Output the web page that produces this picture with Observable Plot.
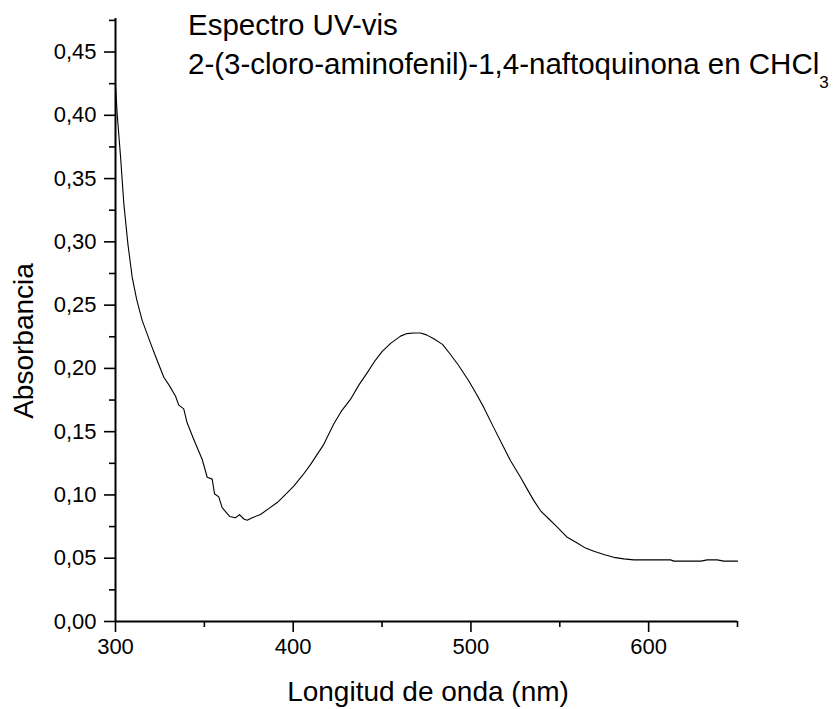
<!DOCTYPE html>
<html>
<head>
<meta charset="utf-8">
<script src="https://cdn.jsdelivr.net/npm/d3@7"></script>
<script src="https://cdn.jsdelivr.net/npm/@observablehq/plot@0.6"></script>
<style>
  html, body { margin: 0; padding: 0; background: #fff; }
  #chart { position: relative; width: 836px; height: 709px; }
  svg { font-family: "Liberation Sans", Arial, sans-serif; }
</style>
</head>
<body>
<div id="chart"></div>
<script>
// Wavelength (nm) and absorbance
const wavelength = [300, 301, 302.8, 304.7, 307, 309.4, 312, 315, 319.7, 323.5, 327.2, 330.5, 333.8, 335.6, 338.4, 340.3, 344, 348.8, 351.6, 354.4, 355.7, 358.1, 360, 364.2, 367.5, 369.8, 372.2, 374.1, 376.9, 381.6, 386, 391, 395, 400.3, 405, 409.7, 417.2, 422.8, 427, 432.2, 437, 441.6, 446, 450.1, 455, 460.4, 464, 467.9, 471.6, 475, 479.1, 484, 488.5, 493, 498.8, 503, 507.3, 512.9, 518.5, 522.3, 527.9, 531.5, 535.4, 539.2, 543.9, 548.6, 554.2, 559.8, 564.5, 569.2, 574.8, 580.4, 586, 591.7, 600, 612.3, 614.2, 620, 629.4, 633, 638.6, 642.3, 650];
const absorbance = [0.424, 0.400, 0.368, 0.330, 0.298, 0.272, 0.254, 0.238, 0.220, 0.206, 0.193, 0.186, 0.178, 0.171, 0.168, 0.157, 0.144, 0.128, 0.114, 0.1125, 0.101, 0.0985, 0.090, 0.083, 0.082, 0.0845, 0.081, 0.080, 0.082, 0.0845, 0.089, 0.094, 0.0995, 0.107, 0.115, 0.124, 0.140, 0.156, 0.166, 0.1755, 0.187, 0.1965, 0.206, 0.2135, 0.220, 0.2255, 0.2275, 0.228, 0.228, 0.2265, 0.2235, 0.219, 0.211, 0.2025, 0.190, 0.180, 0.169, 0.153, 0.1375, 0.127, 0.114, 0.105, 0.0955, 0.0875, 0.081, 0.0745, 0.0665, 0.062, 0.058, 0.0555, 0.053, 0.0507, 0.0495, 0.0487, 0.0487, 0.0487, 0.0477, 0.0477, 0.0477, 0.0487, 0.0487, 0.0477, 0.0477];

const xMajorTicks = [300, 400, 500, 600];
const xMinorTicks = [350, 450, 550, 650];
const yMajorTicks = [0, 0.05, 0.10, 0.15, 0.20, 0.25, 0.30, 0.35, 0.40, 0.45];
const yMinorTicks = [0.025, 0.075, 0.125, 0.175, 0.225, 0.275, 0.325, 0.375, 0.425, 0.475];

const titleLine1 = "Espectro UV-vis";
const titleLine2 = "2-(3-cloro-aminofenil)-1,4-naftoquinona en CHCl";
const titleSub = "3";
const xLabel = "Longitud de onda (nm)";
const yLabel = "Absorbancia";

const data = wavelength.map((w, i) => ({w, a: absorbance[i]}));
const fmt = d => d3.format(".2f")(d).replace(".", ",");

const plot = Plot.plot({
  width: 836,
  height: 709,
  marginLeft: 115,
  marginRight: 99,
  marginTop: 18,
  marginBottom: 88,
  style: {fontFamily: '"Liberation Sans", Arial, sans-serif', background: "#fff", color: "#000"},
  x: {domain: [300, 650]},
  y: {domain: [0, 0.4765]},
  marks: [
    Plot.axisX({ticks: xMajorTicks, tickSize: 11, tickPadding: 6, tickFormat: d => String(d), fontSize: 22, label: null, strokeWidth: 1.6}),
    Plot.axisX({ticks: xMinorTicks, tickSize: 6, tickFormat: () => "", label: null, strokeWidth: 1.6}),
    Plot.axisY({ticks: yMajorTicks, tickSize: 11, tickPadding: 8, tickFormat: fmt, fontSize: 22, label: null, strokeWidth: 1.6}),
    Plot.axisY({ticks: yMinorTicks, tickSize: 6, tickFormat: () => "", label: null, strokeWidth: 1.6}),
    Plot.ruleX([300], {stroke: "#000", strokeWidth: 2}),
    Plot.ruleY([0], {stroke: "#000", strokeWidth: 2}),
    Plot.line(data, {x: "w", y: "a", stroke: "#000", strokeWidth: 1.1})
  ]
});

document.getElementById("chart").appendChild(plot);

const svg = d3.select(plot);
svg.append("text")
  .attr("x", 188).attr("y", 35)
  .attr("text-anchor", "start")
  .attr("font-size", 29.5).attr("fill", "#000")
  .text(titleLine1);
const t2 = svg.append("text")
  .attr("x", 188).attr("y", 74)
  .attr("text-anchor", "start")
  .attr("font-size", 29.5).attr("fill", "#000");
t2.append("tspan").text(titleLine2);
t2.append("tspan").attr("font-size", 17).attr("dy", 14).text(titleSub);

svg.append("text")
  .attr("x", 428).attr("y", 701)
  .attr("text-anchor", "middle")
  .attr("font-size", 28).attr("fill", "#000")
  .text(xLabel);

svg.append("text")
  .attr("transform", "translate(33,341) rotate(-90)")
  .attr("text-anchor", "middle")
  .attr("font-size", 28).attr("fill", "#000")
  .text(yLabel);
</script>
</body>
</html>
